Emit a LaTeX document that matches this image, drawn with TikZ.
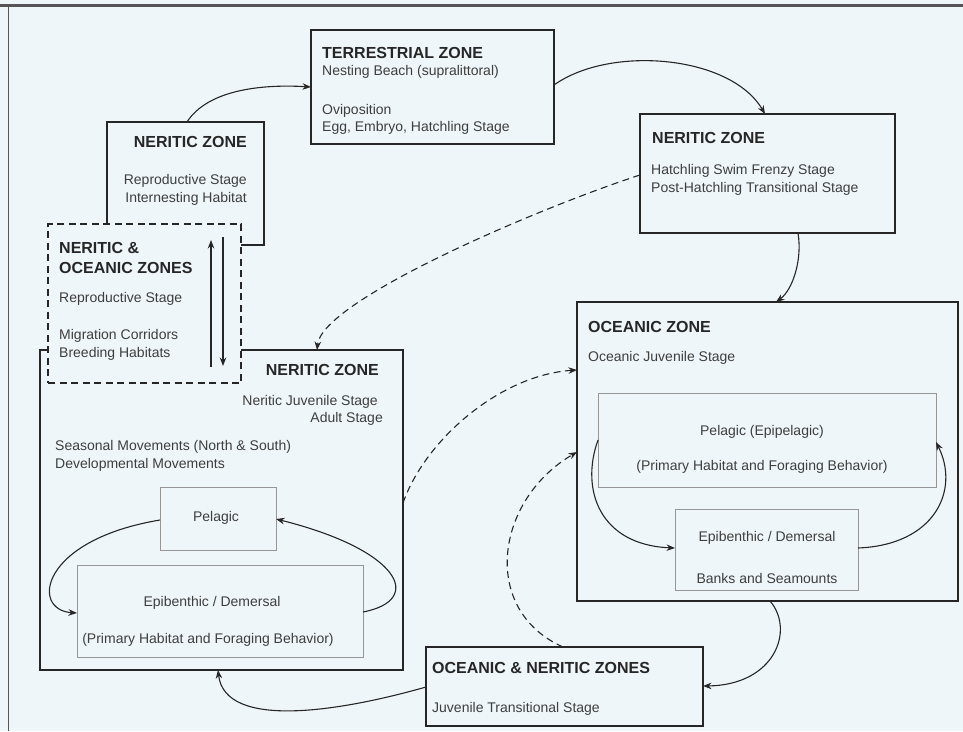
\documentclass[tikz,border=0pt]{standalone}
\usepackage{fontspec}
\setmainfont{Liberation Sans}
\usetikzlibrary{arrows.meta,calc}
\definecolor{bgc}{RGB}{239,246,250}
\definecolor{ink}{RGB}{38,38,38}
\definecolor{txt}{RGB}{62,62,62}
\definecolor{framec}{RGB}{85,85,85}
\definecolor{ibc}{RGB}{150,150,150}
\begin{document}
\begin{tikzpicture}[x=1pt,y=-1pt,
  box/.style={draw=ink, line width=1.2pt, inner sep=0pt, outer sep=0pt},
  ibox/.style={draw=ibc, line width=0.6pt, inner sep=0pt, outer sep=0pt},
  hd/.style={font=\fontsize{16}{19}\selectfont\bfseries, text=ink, inner sep=0pt},
  bd/.style={font=\fontsize{14}{17}\selectfont, text=txt, inner sep=0pt},
  arr/.style={-{Stealth[length=8.5pt,width=6.5pt]}, line width=1.1pt, draw=ink},
  darr/.style={arr, dash pattern=on 7pt off 4.5pt}]
\fill[bgc] (0,0) rectangle (963,731);
\useasboundingbox (0,0) rectangle (963,731);
\draw[framec, line width=3pt] (0,5) -- (963,5);
\draw[framec, line width=1.3pt] (8.5,5) -- (8.5,731);

% main boxes
\node[box, minimum width=243pt, minimum height=114pt] (terr) at (432.5,87) {};
\node[box, minimum width=255pt, minimum height=119pt] (nerR) at (767.5,173.5) {};
\node[box, minimum width=157pt, minimum height=123pt] (nerU) at (185.5,183.5) {};
\node[box, minimum width=363pt, minimum height=320pt] (nerB) at (221.5,510) {};
\node[box, fill=bgc, dash pattern=on 7pt off 4.5pt, minimum width=193pt, minimum height=159pt] (dash) at (144.5,303.5) {};
\node[box, minimum width=381pt, minimum height=299pt] (oce) at (767.5,451.5) {};
\node[box, minimum width=277pt, minimum height=79pt] (onz) at (564.5,686.5) {};

% inner boxes
\node[ibox, minimum width=116pt, minimum height=63pt] (pelB) at (218,518.5) {};
\node[ibox, minimum width=286pt, minimum height=92pt] (epiB) at (220,611) {};
\node[ibox, minimum width=338pt, minimum height=94pt] (pelO) at (767,440) {};
\node[ibox, minimum width=183pt, minimum height=81pt] (epiO) at (766.5,549.5) {};

% texts: terrestrial
\node[hd, anchor=west] (t1) at (322,53) {TERRESTRIAL ZONE};
\node[bd, anchor=west] (t2) at (322,72) {Nesting Beach (supralittoral)};
\node[bd, anchor=west] (t3) at (322,111) {Oviposition};
\node[bd, anchor=west] (t4) at (322,128) {Egg, Embryo, Hatchling Stage};
% neritic right
\node[hd, anchor=west] (t5) at (652,138) {NERITIC ZONE};
\node[bd, anchor=west] (t6) at (651,171) {Hatchling Swim Frenzy Stage};
\node[bd, anchor=west] (t7) at (651,189) {Post-Hatchling Transitional Stage};
% neritic upper
\node[hd, anchor=east] (t8) at (247,142) {NERITIC ZONE};
\node[bd, anchor=east] (t9) at (247,181) {Reproductive Stage};
\node[bd, anchor=east] (t10) at (247,199) {Internesting Habitat};
% dashed box
\node[hd, anchor=west] (t11) at (59,248) {NERITIC \&};
\node[hd, anchor=west] (t12) at (59,268) {OCEANIC ZONES};
\node[bd, anchor=west] (t13) at (59,299) {Reproductive Stage};
\node[bd, anchor=west] (t14) at (59,336) {Migration Corridors};
\node[bd, anchor=west] (t15) at (59,354) {Breeding Habitats};
% neritic big
\node[hd, anchor=east] (t16) at (379,370) {NERITIC ZONE};
\node[bd, anchor=east] (t17) at (378,402) {Neritic Juvenile Stage};
\node[bd, anchor=east] (t18) at (383,419) {Adult Stage};
\node[bd, anchor=west] (t19) at (55,447) {Seasonal Movements (North \& South)};
\node[bd, anchor=west] (t20) at (55,465) {Developmental Movements};
\node[bd] (t21) at (216,518) {Pelagic};
\node[bd] (t22) at (212,603) {Epibenthic / Demersal};
\node[bd] (t23) at (208,640) {(Primary Habitat and Foraging Behavior)};
% oceanic
\node[hd, anchor=west] (t24) at (588,327) {OCEANIC ZONE};
\node[bd, anchor=west] (t25) at (588,358) {Oceanic Juvenile Stage};
\node[bd] (t26) at (762,432) {Pelagic (Epipelagic)};
\node[bd] (t27) at (762,467) {(Primary Habitat and Foraging Behavior)};
\node[bd] (t28) at (767,538) {Epibenthic / Demersal};
\node[bd] (t29) at (767,578) {Banks and Seamounts};
% oceanic & neritic
\node[hd, anchor=west] (t30) at (432,668) {OCEANIC \& NERITIC ZONES};
\node[bd, anchor=west] (t31) at (432,709) {Juvenile Transitional Stage};

% solid connectors
\draw[arr] ([xshift=1.5pt]nerU.north) .. controls ($(nerU.north)+(22,-32)$) and ($(terr.west)+(-50,-3)$) .. (terr.west);
\draw[arr] ($(terr.east)+(0,-2)$) .. controls ($(terr.east)+(56,-42)$) and ($(nerR.north)+(-37,-59)$) .. ($(nerR.north)+(-2.5,0)$);
\draw[arr] ($(nerR.south)+(30.5,0)$) .. controls ($(nerR.south)+(35,27)$) and ($(oce.north)+(25,-12)$) .. ($(oce.north)+(8.5,0)$);
\draw[arr] ($(oce.south)+(2.5,0)$) .. controls ($(oce.south)+(27.5,29)$) and ($(onz.east)+(72,-1.5)$) .. ($(onz.east)+(0,-0.5)$);
\draw[arr] ($(onz.west)+(0,0.5)$) .. controls ($(onz.west)+(-86,25)$) and ($(nerB.south)+(3.5,60)$) .. ($(nerB.south)+(-3.5,0)$);

% dashed connectors
\draw[darr] ($(nerR.west)+(0,1.5)$) .. controls ($(nerR.west)+(-100,34)$) and ($(nerB.north)+(100.5,-50)$) .. ($(nerB.north)+(95.5,0)$);
\draw[darr] ($(nerB.east)+(0,-7)$) .. controls ($(nerB.east)+(22,-70)$) and ($(oce.west)+(-77,-76.5)$) .. ($(oce.west)+(0,-81.5)$);
\draw[darr] ($(onz.north)+(-1.5,0)$) .. controls ($(onz.north)+(-84.5,-37)$) and ($(oce.west)+(-82,48.5)$) .. ($(oce.west)+(0,0.5)$);

% reproductive arrows in dashed box
\draw[arr] ($(dash.south)+(66.5,-16)$) -- ($(dash.north)+(66.5,16)$);
\draw[arr] ($(dash.north)+(78.5,13)$) -- ($(dash.south)+(78.5,-17)$);

% inner neritic curves
\draw[arr] ($(pelB.west)+(0,1.5)$) .. controls ($(pelB.west)+(-120,21.5)$) and ($(epiB.west)+(-47,-1)$) .. ($(epiB.west)+(0,2)$);
\draw[arr] ($(epiB.east)+(0,1)$) .. controls ($(epiB.east)+(62,-11)$) and ($(pelB.east)+(124,31.5)$) .. ($(pelB.east)+(0,0.5)$);
% inner oceanic curves
\draw[arr] ($(pelO.west)+(0,0)$) .. controls ($(pelO.west)+(-18,50)$) and ($(epiO.west)+(-75,-4.5)$) .. ($(epiO.west)+(0,-1.5)$);
\draw[arr] ($(epiO.east)+(0,-1.5)$) .. controls ($(epiO.east)+(77,-4.5)$) and ($(pelO.east)+(24,50)$) .. ($(pelO.east)+(0,2)$);
\end{tikzpicture}
\end{document}
